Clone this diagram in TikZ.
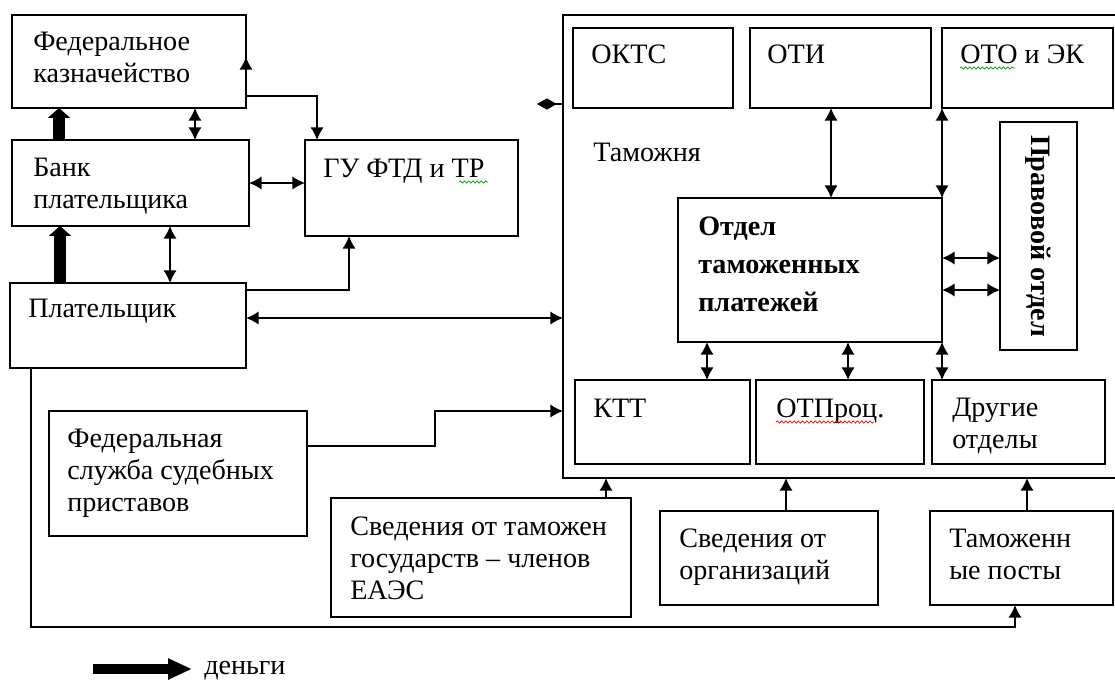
\documentclass[tikz,border=0pt]{standalone}
\usepackage{fontspec}
\setmainfont{Liberation Serif}
\usetikzlibrary{arrows.meta, calc, fit, decorations.pathmorphing}

\begin{document}
\begin{tikzpicture}[x = 0.025cm, y = -0.025cm, > = {Latex[length=9pt, width=9.5pt]},
	box/.style = {draw, line width=1.2pt, inner sep=0pt, outer sep=0pt},
	txt/.style = {anchor=base west, align=left, inner sep=0pt, font=\fontsize{20}{22.7}\selectfont},
	bold/.style = {txt, font=\fontsize{20}{27}\selectfont\bfseries},
	link/.style = {line width=1.1pt},
	money/.style = {line width=8.5pt, -{Triangle[length=7pt, width=15.5pt]}},
	spell/.style = {decorate, decoration={snake, amplitude=0.8pt, segment length=3pt}, line width=0.5pt}]

	\useasboundingbox (0,0) rectangle (1115,680);

	% Left column (texts sit on the baseline of their last line)
	
	\node [box, fit={(12,15) (246,108)}] (fed) {};
	\node [box, fit={(12,140) (249,226)}] (bank) {};
	\node [box, fit={(10,283) (246,368)}] (payer) {};
	\node [box, fit={(305,140) (518,236)}] (gu) {};
	\node [box, fit={(49,411) (307,536)}] (fssp) {};
	
	\node [txt] (fed-t) at ($(fed.north west)+(21,67)$) {Федеральное\\казначейство};
	\node [txt] (bank-t) at ($(bank.north west)+(21,68)$) {Банк\\плательщика};
	\node [txt] (payer-t) at ($(payer.north west)+(18,34)$) {Плательщик};
	\node [txt] (gu-t) at ($(gu.north west)+(18,37)$) {ГУ ФТД и ТР};
	\node [txt] (fssp-t) at ($(fssp.north west)+(18,100)$) {Федеральная\\служба судебных\\приставов};

	% Customs
	
	\node [box, fit={(563,15) (1125,478)}] (customs) {};
	\node [box, fit={(573,28) (733,108)}] (okts) {};
	\node [box, fit={(750,28) (931,108)}] (oti) {};
	\node [box, fit={(942,28) (1113,108)}] (oto) {};
	\node [box, fit={(1000,122) (1077,350)}] (pravo) {};
	\node [box, fit={(678,198) (942,342)}] (otp) {};
	\node [box, fit={(575,380) (750,464)}] (ktt) {};
	\node [box, fit={(756,380) (924,464)}] (otproc) {};
	\node [box, fit={(932,380) (1105,464)}] (other) {};
	
	\node [txt] (customs-t) at ($(customs.north west)+(30,146)$) {Таможня};
	\node [txt] (okts-t) at ($(okts.north west)+(18,35)$) {ОКТС};
	\node [txt] (oti-t) at ($(oti.north west)+(17,35)$) {ОТИ};
	\node [txt] (oto-t) at ($(oto.north west)+(18,35)$) {ОТО и ЭК};
	\node [bold] (otp-t) at ($(otp.north west)+(20,113)$) {Отдел\\таможенных\\платежей};
	\node [bold, anchor=center, rotate=-90] (pravo-t) at (pravo.center) {Правовой отдел};
	\node [txt] (ktt-t) at ($(ktt.north west)+(18,37)$) {КТТ};
	\node [txt] (otproc-t) at ($(otproc.north west)+(20,37)$) {ОТПроц.};
	\node [txt] (other-t) at ($(other.north west)+(20,68)$) {Другие\\отделы};

	% Sources below
	
	\node [box, fit={(331,498) (631,617)}] (sved1) {};
	\node [box, fit={(660,511) (878,605)}] (sved2) {};
	\node [box, fit={(930,511) (1113,605)}] (posts) {};
	
	\node [txt] (sved1-t) at ($(sved1.north west)+(19,101)$) {Сведения от таможен\\государств -- членов\\ЕАЭС};
	\node [txt] (sved2-t) at ($(sved2.north west)+(19,68)$) {Сведения от\\организаций};
	\node [txt] (posts-t) at ($(posts.north west)+(19,68)$) {Таможенн\\ые посты};

	% Spelling marks
	
	\draw [spell, green!60!black] (459,182) -- (488,182);
	\draw [spell, green!60!black] (960,68) -- (1015,68);
	\draw [spell, red] (776,422) -- (874,422);

	% Money flows
	
	\draw [money] ($(bank.north west)+(47,0)$) coordinate (m1) -- (m1 |- fed.south);
	\draw [money] ($(payer.north west)+(50,0)$) coordinate (m2) -- (m2 |- bank.south);

	% Left links
	
	\draw [link, <->] ($(fed.south west)+(183,0)$) coordinate (c1) -- (c1 |- bank.north);
	\draw [link, <->] ($(bank.south west)+(158,0)$) coordinate (c2) -- (c2 |- payer.north);
	\draw [link, <->] (bank.east) -- (bank.east -| gu.west);
	\draw [link, <->] ($(fed.north east)+(0,42)$) -- ($(fed.north east)+(0,81)$) -| ($(gu.north west)+(12,0)$);
	\draw [link, ->] ($(payer.north east)+(0,7)$) -| ($(gu.south west)+(44,0)$);
	\draw [link, <->] ($(payer.north east)+(0,35)$) coordinate (p1) -- (p1 -| customs.west);
	\draw [link, ->] ($(fssp.north east)+(0,35)$) -- ++(128,0) |- ($(customs.south west)+(0,-67)$);
	\draw [link, ->] ($(payer.south west)+(21,0)$) -- ++(0,259) -| ($(posts.south west)+(85,0)$);
	
	\coordinate (dm) at (537,104);
	\draw [link, {Diamond[length=14pt, width=8pt]}-] (dm) -- (dm -| customs.west);

	% Links inside customs
	
	\draw [link, <->] ($(oti.south west)+(81,0)$) coordinate (c3) -- (c3 |- otp.north);
	\draw [link, <->] (oto.south west) -- (oto.south west |- otp.north);
	\draw [link, <->] ($(otp.north east)+(0,60)$) coordinate (c4) -- (c4 -| pravo.west);
	\draw [link, <->] ($(otp.north east)+(0,92)$) coordinate (c5) -- (c5 -| pravo.west);
	\draw [link, <->] ($(otp.south west)+(29,0)$) coordinate (c6) -- (c6 |- ktt.north);
	\draw [link, <->] ($(otp.south west)+(170,0)$) coordinate (c7) -- (c7 |- otproc.north);
	\draw [link, <->] (otp.south east) -- (otp.south east |- other.north);

	% Sources to customs
	
	\draw [link, ->] ($(sved1.north west)+(275,0)$) coordinate (s1) -- (s1 |- customs.south);
	\draw [link, ->] ($(sved2.north west)+(126,0)$) coordinate (s2) -- (s2 |- customs.south);
	\draw [link, ->] ($(posts.north west)+(97,0)$) coordinate (s3) -- (s3 |- customs.south);

	% Legend
	
	\node [txt] (money-t) at (204,674) {деньги};
	\coordinate (lg) at (93,669);
	\draw [line width=6.5pt, -{Triangle[length=17pt, width=14pt]}] (lg) -- ($(lg -| money-t.west)+(-12,0)$);

\end{tikzpicture}
\end{document}
